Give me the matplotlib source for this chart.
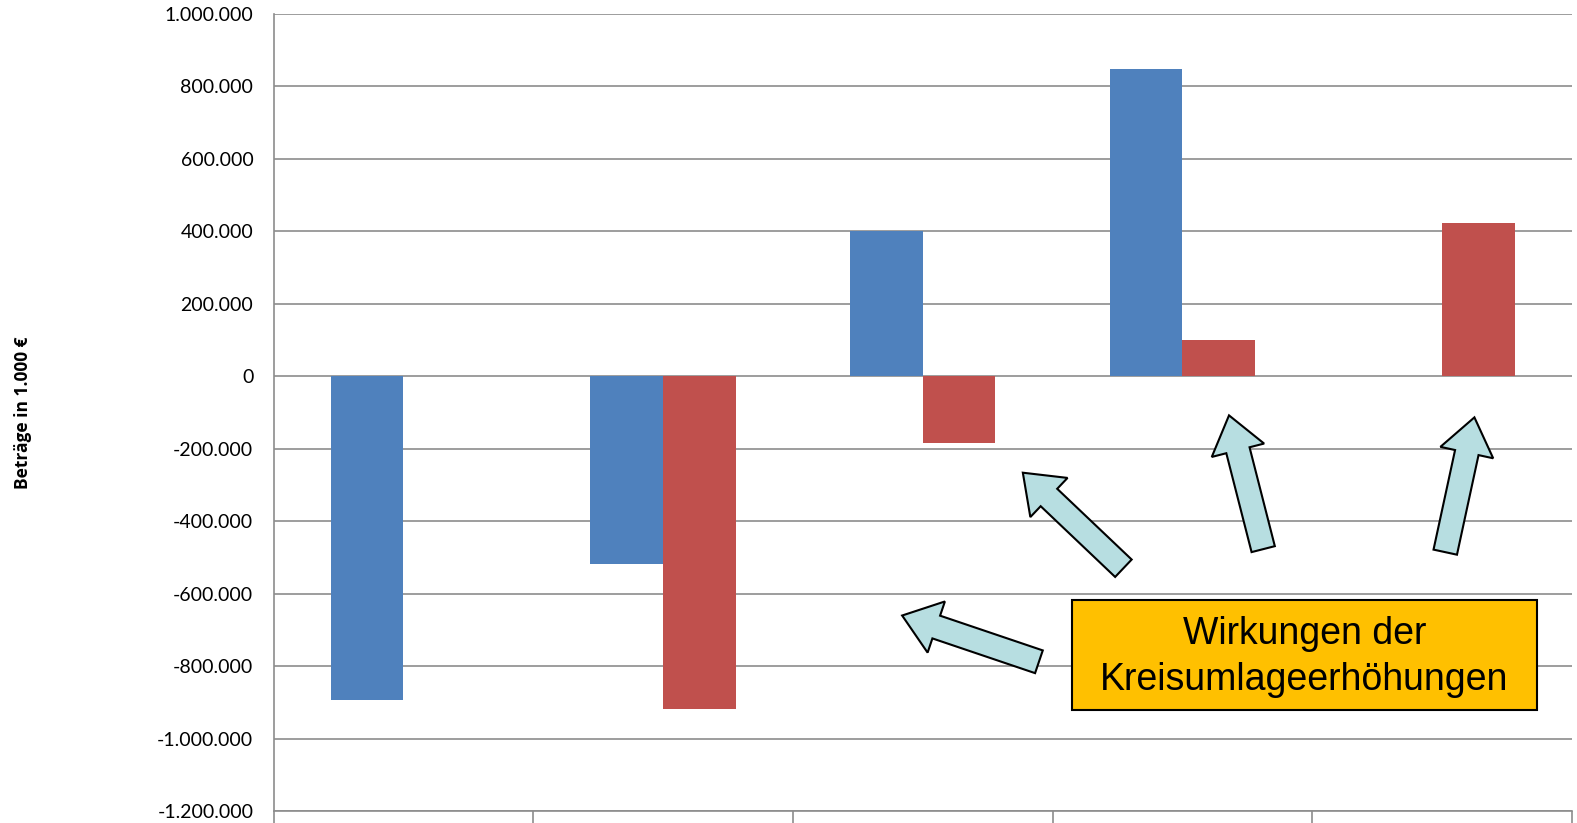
import matplotlib.pyplot as plt
from matplotlib.patches import FancyArrow
from matplotlib.ticker import FuncFormatter

# values in 1.000 EUR
categories = ["", "", "", "", ""]
series_blue = [-894000, -519000, 400000, 847000, 0]
series_red = [0, -919000, -183000, 100000, 422000]
y_ticks = list(range(-1200000, 1000001, 200000))

W, H = 1577, 823
S = 1577 / 1568  # positions measured on a slightly shrunk view

fig = plt.figure(figsize=(W / 100, H / 100), dpi=100)
ax = fig.add_axes([273.5 / W, 1 - 811 / H, (1572 - 273.5) / W, (811 - 14) / H])

x = list(range(len(categories)))
bw = 0.28
ax.bar([i - bw / 2 for i in x], series_blue, width=bw, color="#4F81BD", zorder=3)
ax.bar([i + bw / 2 for i in x], series_red, width=bw, color="#C0504D", zorder=3)

ax.set_xlim(-0.5, len(categories) - 0.5)
ax.set_ylim(-1200000, 1000000)
ax.set_yticks(y_ticks)
ax.yaxis.set_major_formatter(
    FuncFormatter(lambda v, p: f"{int(v):,}".replace(",", ".")))
ax.grid(axis="y", color="#8C8C8C", linewidth=1.2, zorder=0)
ax.set_xticks([i - 0.5 for i in range(len(categories) + 1)])
ax.set_xticklabels([])
ax.tick_params(axis="x", direction="out", length=18, color="#8C8C8C", width=1.2)
ax.tick_params(axis="y", length=0, pad=14.5, labelsize=14)
for lab in ax.get_yticklabels():
    lab.set_fontfamily("Lato")
for s in ["top", "right"]:
    ax.spines[s].set_visible(False)
for s in ["left", "bottom"]:
    ax.spines[s].set_color("#8C8C8C")
    ax.spines[s].set_linewidth(1.2)

fig.text(23 / W, 1 - 413 / H, "Betr\u00e4ge in 1.000 \u20ac", rotation=90,
         ha="center", va="center", fontsize=12.5, fontweight="bold",
         family=["Open Sans", "DejaVu Sans"])

# overlay in pixel coordinates for the callout arrows and box
ov = fig.add_axes([0, 0, 1, 1])
ov.set_xlim(0, W)
ov.set_ylim(H, 0)
ov.axis("off")
ov.patch.set_alpha(0)

arrows = [
    ((1033, 658), (897, 612)),
    ((1117, 565), (1017, 470)),
    ((1256, 546), (1222, 413)),
    ((1437, 549), (1466, 415)),
]
for (tx, ty), (hx, hy) in arrows:
    tx, ty, hx, hy = tx * S, ty * S, hx * S, hy * S
    ov.add_patch(FancyArrow(tx, ty, hx - tx, hy - ty, width=24,
                            head_width=54, head_length=36,
                            length_includes_head=True,
                            facecolor="#B7DEE1", edgecolor="black",
                            linewidth=1.5, zorder=5))

ov.add_patch(plt.Rectangle((1066 * S, 597 * S), 462 * S, 109 * S,
                           facecolor="#FFC000", edgecolor="black",
                           linewidth=1.5, zorder=6))
ov.text(1297 * S, 653 * S, "Wirkungen der\nKreisumlageerh\u00f6hungen",
        ha="center", va="center", fontsize=27, family="Liberation Sans",
        linespacing=1.37, zorder=7)

fig.savefig("out.png", dpi=100)
